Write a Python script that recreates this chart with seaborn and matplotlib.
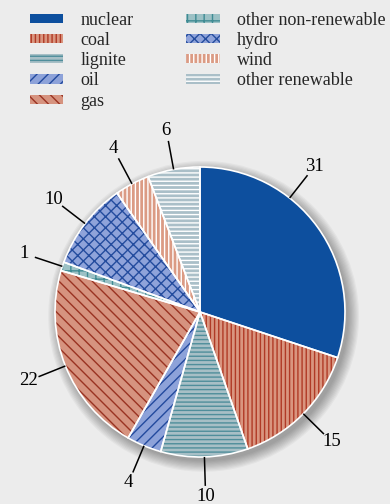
import numpy as np
import matplotlib
matplotlib.use("Agg")
import matplotlib.pyplot as plt
from matplotlib.patches import Wedge, Patch, Circle
import seaborn as sns

# --- Дані ---
sources = ["nuclear", "coal", "lignite", "oil", "gas",
           "other non-renewable", "hydro", "wind", "other renewable"]
shares = [31, 15, 10, 4, 22, 1, 10, 4, 6]

# кольори заливки, кольори штрихування та шаблони
face_colors = ["#0d4f9e", "#d9957f", "#a7bfc6", "#8da2d9", "#d6937f",
               "#9cc1c5", "#8fa3da", "#db9b84", "#aabfc8"]
hatch_colors = ["#0d4f9e", "#b03a26", "#4f8e9b", "#234a9e", "#9a3322",
                "#3f8b93", "#244c9e", "#ffffff", "#ffffff"]
hatches = [None, "||||", "----", "///", "\\\\\\",
           "++", "xxx", "||||", "----"]
label_nudge = {0: 16}  # зсув кута підпису (градуси)

BG = "#ececec"

sns.set_theme(style="white")
plt.rcParams["font.family"] = ["Liberation Serif", "DejaVu Serif"]
plt.rcParams["hatch.linewidth"] = 1.0

fig = plt.figure(figsize=(3.9, 5.04), dpi=100, facecolor=BG)
ax = fig.add_axes([0, 0, 1, 1])
ax.set_facecolor(BG)

R_PX = 145.0
W, H = 390, 504
cx, cy = 200, 312

# м'яка тінь
for i in range(10):
    ax.add_patch(Circle((0.025, -0.03), 1.0 + 0.008 * i, color="black",
                        alpha=0.035, lw=0, zorder=0))

wedges, _ = ax.pie(shares, colors=face_colors, startangle=90,
                   counterclock=False, radius=1.0,
                   wedgeprops=dict(edgecolor="none", linewidth=0, zorder=1))

for w, h, hc in zip(wedges, hatches, hatch_colors):
    if h:
        ax.add_patch(Wedge(w.center, w.r, w.theta1, w.theta2, fill=False,
                           hatch=h, edgecolor=hc, linewidth=0, zorder=2))
    ax.add_patch(Wedge(w.center, w.r, w.theta1, w.theta2, fill=False,
                       edgecolor="white", linewidth=1.2, zorder=3))

# підписи з виносками
for i, (w, val) in enumerate(zip(wedges, shares)):
    ang = np.deg2rad((w.theta1 + w.theta2) / 2 + label_nudge.get(i, 0))
    c, s = np.cos(ang), np.sin(ang)
    ax.plot([1.0 * c, 1.2 * c], [1.0 * s, 1.2 * s], color="black",
            lw=1.1, zorder=4, solid_capstyle="butt")
    ax.text(1.275 * c, 1.275 * s, str(val), ha="center", va="center",
            fontsize=13.5, color="black", zorder=5)

# межі після pie, щоб pie їх не перезаписав
ax.set_xlim(-cx / R_PX, (W - cx) / R_PX)
ax.set_ylim(-(H - cy) / R_PX, cy / R_PX)
ax.set_axis_off()

handles = []
for fc, hc, h in zip(face_colors, hatch_colors, hatches):
    handles.append(Patch(facecolor=fc, edgecolor=hc, hatch=h, linewidth=0))

fig.legend(handles, sources, loc="upper left", bbox_to_anchor=(0.047, 1.0),
           ncol=2, frameon=False, fontsize=13, handlelength=1.85,
           handleheight=0.4, handletextpad=0.95, labelspacing=0.18,
           columnspacing=2.9, borderpad=0.15)

fig.savefig("out.png", dpi=100, facecolor=BG)
